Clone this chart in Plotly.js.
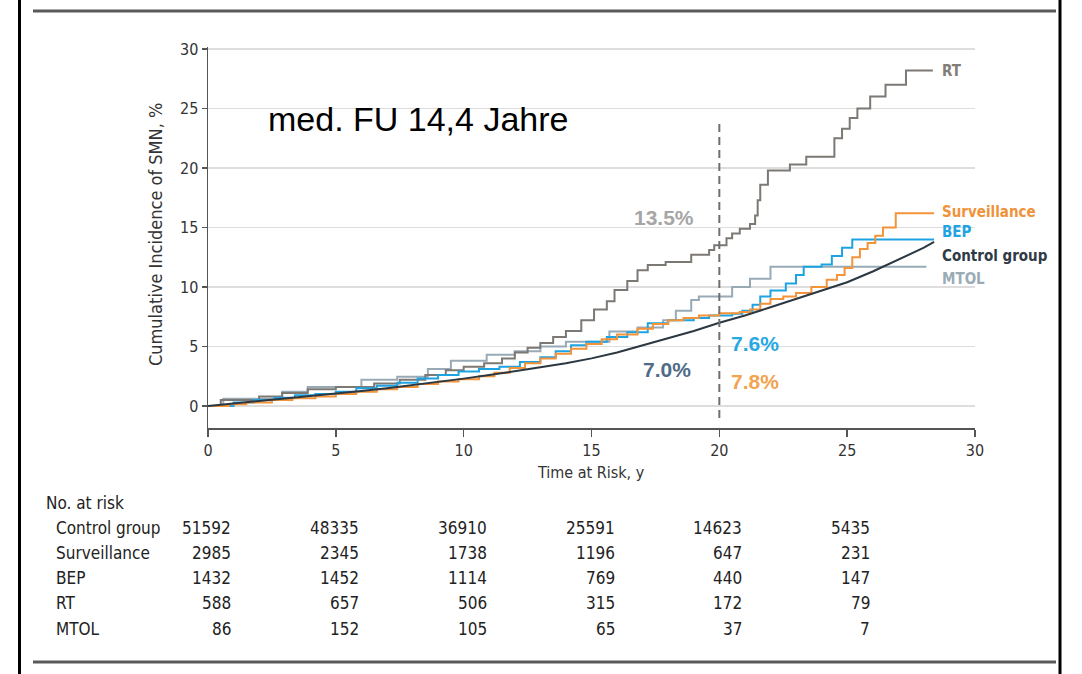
<!DOCTYPE html>
<html>
<head>
<meta charset="utf-8">
<script src="https://cdn.plot.ly/plotly-3.0.1.min.js"></script>
<style>
  html, body { margin: 0; padding: 0; background: #fff; }
  #chart { width: 1082px; height: 674px; }
</style>
</head>
<body>
<div id="chart"></div>
<script>
// Cumulative incidence of second malignant neoplasms (SMN), step curves per group
const groupNames = ['Control group', 'Surveillance', 'BEP', 'RT', 'MTOL'];

const ctrlT = [0,1,2,3,4,5,6,7,8,9,10,11,12,13,14,15,16,17,18,19,20,21,22,23,24,25,26,27,28,28.4];
const ctrlV = [0,0.2,0.4,0.6,0.8,1.0,1.25,1.5,1.75,2.0,2.3,2.6,2.9,3.25,3.6,4.0,4.5,5.1,5.7,6.3,7.0,7.6,8.3,9.0,9.7,10.4,11.3,12.3,13.3,13.8];

const survT = [0,0.8,1.5,2.5,3.3,4.2,5.0,5.8,6.6,7.4,8.2,9.0,9.8,10.6,11.2,11.8,12.4,13.0,13.6,14.2,14.8,15.4,16.0,16.8,17.4,18.0,18.6,19.2,20.0,20.8,21.2,21.6,22.0,22.5,23.0,23.6,24.2,24.6,24.9,25.2,25.5,25.8,26.1,26.4,26.9,28.4];
const survV = [0,0.15,0.3,0.5,0.65,0.8,1.0,1.2,1.4,1.6,1.85,2.05,2.25,2.5,2.8,3.2,3.6,4.0,4.4,4.8,5.2,5.6,6.0,6.5,6.9,7.2,7.4,7.6,7.8,7.9,8.1,8.6,9.0,9.2,9.5,10.0,10.6,11.0,11.6,12.5,13.2,13.7,14.3,15.0,16.2,16.2];

const bepT = [0,1.0,1.8,2.6,3.4,4.2,5.0,5.8,6.6,7.4,8.2,9.0,9.8,10.6,11.4,12.2,13.0,13.6,14.2,14.8,15.6,16.4,17.2,18.0,19.0,19.6,20.5,20.9,21.3,21.6,22.0,22.6,23.0,23.3,24.0,24.4,24.8,25.2,28.4];
const bepV = [0,0.3,0.5,0.7,0.9,1.0,1.2,1.5,1.7,1.95,2.3,2.6,2.9,3.1,3.3,3.7,4.1,4.6,5.1,5.4,5.8,6.2,6.95,7.2,7.4,7.6,7.75,8.0,8.5,9.2,9.7,10.3,11.0,11.7,11.9,12.6,13.3,14.0,14.0];

const rtT = [0,0.5,2.0,2.9,3.9,5.0,6.5,7.5,8.5,9.3,10.0,10.8,11.5,12.0,12.5,13.0,13.5,14.0,14.6,15.1,15.6,15.9,16.4,16.8,17.2,17.9,18.9,19.6,19.8,20.28,20.5,20.8,21.2,21.4,21.5,21.6,21.9,22.76,23.4,24.5,24.8,25.1,25.4,25.9,26.5,27.3,28.35];
const rtV = [0,0.5,0.8,1.1,1.4,1.6,1.9,2.2,2.6,3.0,3.3,3.6,4.0,4.5,4.9,5.3,5.8,6.3,7.2,8.1,8.8,9.75,10.5,11.4,11.85,12.1,12.7,13.1,13.5,14.1,14.5,14.9,15.3,16.0,17.3,18.6,19.8,20.3,20.95,22.5,23.3,24.2,25.0,26.0,27.0,28.2,28.2];

const mtolT = [0,0.6,2.9,3.9,6.0,7.4,8.6,9.5,10.9,12.0,13.0,14.0,15.7,16.8,17.8,18.3,18.9,19.2,20.5,21.2,22.0,28.1];
const mtolV = [0,0.6,1.2,1.6,2.2,2.45,3.1,3.8,4.3,4.6,5.0,5.4,6.25,6.6,7.2,8.0,8.9,9.2,10.0,10.7,11.7,11.7];

// Number at risk table
const riskTimes = [0, 5, 10, 15, 20, 25];
const riskControl = [51592, 48335, 36910, 25591, 14623, 5435];
const riskSurv = [2985, 2345, 1738, 1196, 647, 231];
const riskBep = [1432, 1452, 1114, 769, 440, 147];
const riskRt = [588, 657, 506, 315, 172, 79];
const riskMtol = [86, 152, 105, 65, 37, 7];

const xTicks = [0, 5, 10, 15, 20, 25, 30];
const yTicks = [0, 5, 10, 15, 20, 25, 30];
const landmarkYear = 20;

const colors = {
  ctrl: '#2b3741', surv: '#f3933a', bep: '#1ea3e2', rt: '#7c7873', mtol: '#98aab6'
};

// plot box in pixels
const L = 208, T = 47, W = 767, H = 381;
const px = xp => (xp - L) / W;
const py = yp => (T + H - yp) / H;

const condensed = 'DejaVu Sans Condensed, DejaVu Sans, sans-serif';
const arial = 'Liberation Sans, Arial, sans-serif';

// value of a curve at time t (linear between points for the smooth curve, last step otherwise)
function valueAt(ts, vs, t, linear) {
  for (let i = 0; i < ts.length - 1; i++) {
    if (t >= ts[i] && t < ts[i + 1]) {
      if (!linear) return vs[i];
      return vs[i] + (vs[i + 1] - vs[i]) * (t - ts[i]) / (ts[i + 1] - ts[i]);
    }
  }
  return vs[vs.length - 1];
}

function curveTrace(ts, vs, color, name, shape) {
  return { x: ts, y: vs, type: 'scatter', mode: 'lines', name: name,
           line: { color: color, width: 2, shape: shape }, hoverinfo: 'skip' };
}

const traces = [
  curveTrace(mtolT, mtolV, colors.mtol, 'MTOL', 'hv'),
  curveTrace(rtT, rtV, colors.rt, 'RT', 'hv'),
  curveTrace(bepT, bepV, colors.bep, 'BEP', 'hv'),
  curveTrace(survT, survV, colors.surv, 'Surveillance', 'hv'),
  curveTrace(ctrlT, ctrlV, colors.ctrl, 'Control group', 'linear')
];

const annotations = [];

// right-hand curve labels
const endLabels = [
  { text: 'RT', y: 28.15, color: '#837d78' },
  { text: 'Surveillance', y: 16.3, color: '#f0923a' },
  { text: 'BEP', y: 14.6, color: '#22a4e2' },
  { text: 'Control group', y: 12.6, color: '#2f3a44' },
  { text: 'MTOL', y: 10.67, color: '#9aabb7' }
];
endLabels.forEach(l => annotations.push({
  xref: 'x', yref: 'y', x: 28.63, y: l.y, xanchor: 'left', yanchor: 'middle',
  text: '<b>' + l.text + '</b>', showarrow: false,
  font: { family: condensed, size: 15, color: l.color }
}));

// landmark values at year 20
const pct = v => v.toFixed(1) + '%';
const landmarkLabels = [
  { v: valueAt(rtT, rtV, landmarkYear, false), x: 17.83, y: 15.88, color: '#a6a6a6' },
  { v: valueAt(ctrlT, ctrlV, landmarkYear, true), x: 17.95, y: 3.1, color: '#4f6b86' },
  { v: valueAt(bepT, bepV, landmarkYear, false), x: 21.39, y: 5.29, color: '#27a8e3' },
  { v: valueAt(survT, survV, landmarkYear, false), x: 21.39, y: 2.1, color: '#f2a34f' }
];
landmarkLabels.forEach(l => annotations.push({
  xref: 'x', yref: 'y', x: l.x, y: l.y, xanchor: 'center', yanchor: 'middle',
  text: '<b>' + pct(l.v) + '</b>', showarrow: false,
  font: { family: arial, size: 21, color: l.color }
}));

annotations.push({
  xref: 'x', yref: 'y', x: 8.21, y: 24.1, xanchor: 'center', yanchor: 'middle',
  text: 'med. FU 14,4 Jahre', showarrow: false,
  font: { family: arial, size: 34, color: '#000' }
});

// axis titles
annotations.push({
  xref: 'paper', yref: 'paper', x: px(155), y: py(235), xanchor: 'center', yanchor: 'middle',
  text: 'Cumulative Incidence of SMN, %', textangle: -90, showarrow: false,
  font: { family: condensed, size: 18, color: '#333' }
});
annotations.push({
  xref: 'paper', yref: 'paper', x: px(591), y: py(472), xanchor: 'center', yanchor: 'middle',
  text: 'Time at Risk, y', showarrow: false,
  font: { family: condensed, size: 16, color: '#333' }
});

// number-at-risk table
const tableFont = { family: condensed, size: 17, color: '#222' };
annotations.push({
  xref: 'paper', yref: 'paper', x: px(44), y: py(503), xanchor: 'left', yanchor: 'middle',
  text: 'No. at risk', showarrow: false, font: tableFont
});
const riskRows = [riskControl, riskSurv, riskBep, riskRt, riskMtol];
const rowY = [528, 553, 578, 603, 629];
riskRows.forEach((row, i) => {
  annotations.push({
    xref: 'paper', yref: 'paper', x: px(54), y: py(rowY[i]), xanchor: 'left', yanchor: 'middle',
    text: groupNames[i], showarrow: false, font: tableFont
  });
  row.forEach((n, j) => annotations.push({
    xref: 'x', yref: 'paper', x: riskTimes[j], xshift: 25, y: py(rowY[i]),
    xanchor: 'right', yanchor: 'middle', text: String(n), showarrow: false, font: tableFont
  }));
});

const shapes = [
  // landmark line at 20 years
  { type: 'line', xref: 'x', yref: 'y', x0: landmarkYear, x1: landmarkYear, y0: -1.0, y1: 23.8,
    line: { color: '#6f6f6f', width: 2, dash: '8px,5px' } },
  // frame
  { type: 'line', xref: 'paper', yref: 'paper', x0: px(19.5), x1: px(19.5), y0: py(0), y1: py(674),
    line: { color: '#000', width: 3 } },
  { type: 'line', xref: 'paper', yref: 'paper', x0: px(1060), x1: px(1060), y0: py(0), y1: py(674),
    line: { color: '#000', width: 3 } },
  { type: 'line', xref: 'paper', yref: 'paper', x0: px(33), x1: px(1056), y0: py(11), y1: py(11),
    line: { color: '#5a5a5a', width: 3 } },
  { type: 'line', xref: 'paper', yref: 'paper', x0: px(33), x1: px(1056), y0: py(662), y1: py(662),
    line: { color: '#5a5a5a', width: 3 } }
];

const layout = {
  width: 1082, height: 674,
  margin: { l: L, r: 1082 - L - W, t: T, b: 674 - T - H, pad: 0 },
  paper_bgcolor: '#fff', plot_bgcolor: '#fff',
  showlegend: false,
  xaxis: {
    range: [0, 30], tickvals: xTicks, ticktext: xTicks.map(String),
    ticks: 'outside', ticklen: 7, tickwidth: 1.5, tickcolor: '#555',
    showline: true, linecolor: '#555', linewidth: 1.5,
    showgrid: false, zeroline: false,
    tickfont: { family: condensed, size: 16, color: '#333' }
  },
  yaxis: {
    range: [-1.85, 30.17], tickvals: yTicks, ticktext: yTicks.map(String),
    ticks: 'outside', ticklen: 5, tickwidth: 1.5, tickcolor: '#555',
    showline: true, linecolor: '#555', linewidth: 1.5,
    showgrid: true, gridcolor: '#dddddd', gridwidth: 1.5, zeroline: false,
    tickfont: { family: condensed, size: 16, color: '#333' }
  },
  annotations: annotations,
  shapes: shapes
};

Plotly.newPlot('chart', traces, layout, { displayModeBar: false, staticPlot: true });
</script>
</body>
</html>
